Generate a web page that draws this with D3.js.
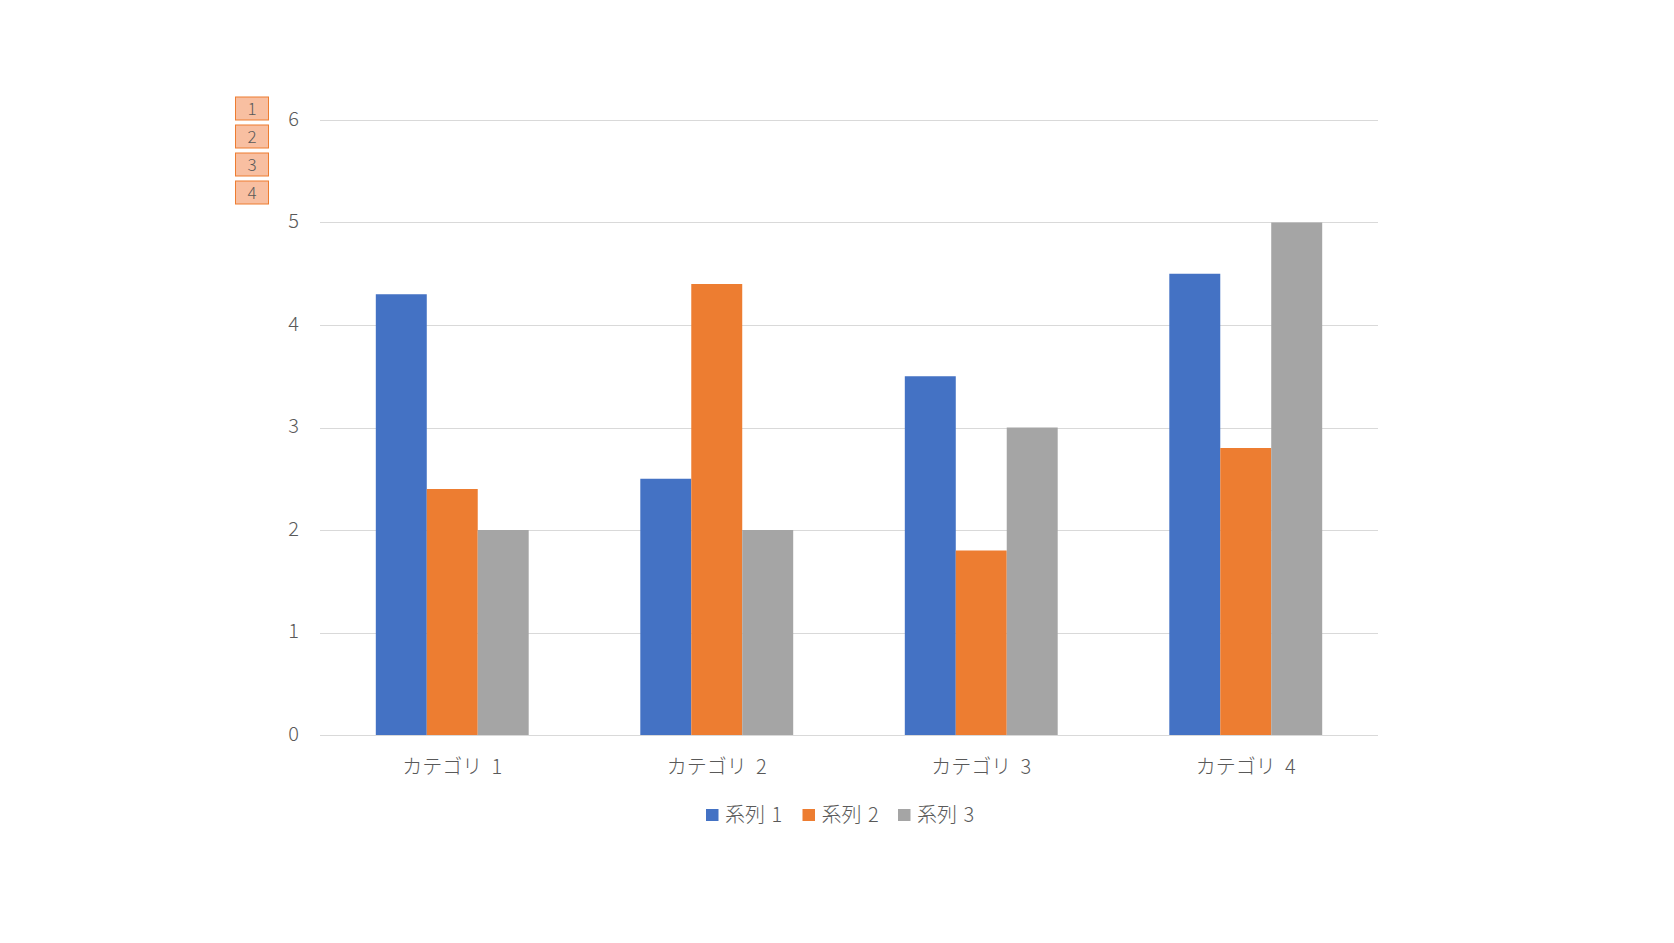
<!DOCTYPE html>
<html><head><meta charset="utf-8">
<script src="https://cdn.jsdelivr.net/npm/d3@7"></script>
<style>body{margin:0;background:#fff}svg{display:block}text{font-family:"Noto Sans CJK JP","Noto Sans",sans-serif;font-weight:300;fill:#595959}</style>
</head><body>
<script>
const categories = ["カテゴリ 1","カテゴリ 2","カテゴリ 3","カテゴリ 4"];
const seriesNames = ["系列 1","系列 2","系列 3"];
const series1 = [4.3, 2.5, 3.5, 4.5];
const series2 = [2.4, 4.4, 1.8, 2.8];
const series3 = [2.0, 2.0, 3.0, 5.0];
const yTicks = [0,1,2,3,4,5,6];
const boxLabels = ["1","2","3","4"];
const colors = ["#4472C4","#ED7D31","#A5A5A5"];
const allSeries = [series1, series2, series3];

(function(){
const W=1674,H=943;
const svg=d3.select("body").append("svg").attr("width",W).attr("height",H);
const pL=320,pR=1378,pT=120,pB=735;
const x=d3.scaleBand().domain(categories).range([pL,pR]).padding(0);
const y=d3.scaleLinear().domain([0,6]).range([pB,pT]);
const barW=x.bandwidth()/(3+2.19);

// grid
svg.append("g").selectAll("line").data(yTicks).join("line")
 .attr("x1",pL).attr("x2",pR).attr("y1",d=>Math.round(y(d))+0.5).attr("y2",d=>Math.round(y(d))+0.5)
 .attr("stroke","#D9D9D9").attr("stroke-width",1);

// y labels
const yAxis=d3.axisLeft(y).tickValues(yTicks).tickSize(0).tickPadding(21).tickFormat(d3.format("d"));
const ya=svg.append("g").attr("transform",`translate(${pL},0)`).call(yAxis);
ya.select(".domain").remove();
ya.selectAll("text").style("font-size","20px").attr("fill","#595959").attr("dy","0.25em");

// bars
allSeries.forEach((s,si)=>{
  svg.append("g").selectAll("rect").data(s).join("rect")
   .attr("x",(d,i)=>x(categories[i])+x.bandwidth()/2-1.5*barW+si*barW)
   .attr("width",barW)
   .attr("y",d=>y(d)).attr("height",d=>y(0)-y(d))
   .attr("fill",colors[si]);
});

// x labels
const xAxis=d3.axisBottom(x).tickSize(0).tickPadding(25);
const xa=svg.append("g").attr("transform",`translate(0,${pB})`).call(xAxis);
xa.select(".domain").remove();
xa.selectAll("text").style("font-size","20px").style("word-spacing","5px").attr("fill","#595959");

// legend
const legX=[706,802.5,898];
const lg=svg.append("g").selectAll("g").data(seriesNames).join("g")
 .attr("transform",(d,i)=>`translate(${legX[i]},809)`);
lg.append("rect").attr("width",12.5).attr("height",12).attr("fill",(d,i)=>colors[i]);
lg.append("text").attr("x",19).attr("y",6).attr("dy","0.35em").style("font-size","20px").style("word-spacing","2px").text(d=>d);

// boxes
const bx=svg.append("g").selectAll("g").data(boxLabels).join("g")
 .attr("transform",(d,i)=>`translate(235.5,${97+i*28})`);
bx.append("rect").attr("width",33).attr("height",23).attr("fill","#F8BFA1").attr("stroke","#ED7D31").attr("stroke-width",1);
bx.append("text").attr("x",16.5).attr("y",12).attr("dy","0.35em").attr("text-anchor","middle").style("font-size","17px").attr("fill","#404040").text(d=>d);
})();
</script>
</body></html>
